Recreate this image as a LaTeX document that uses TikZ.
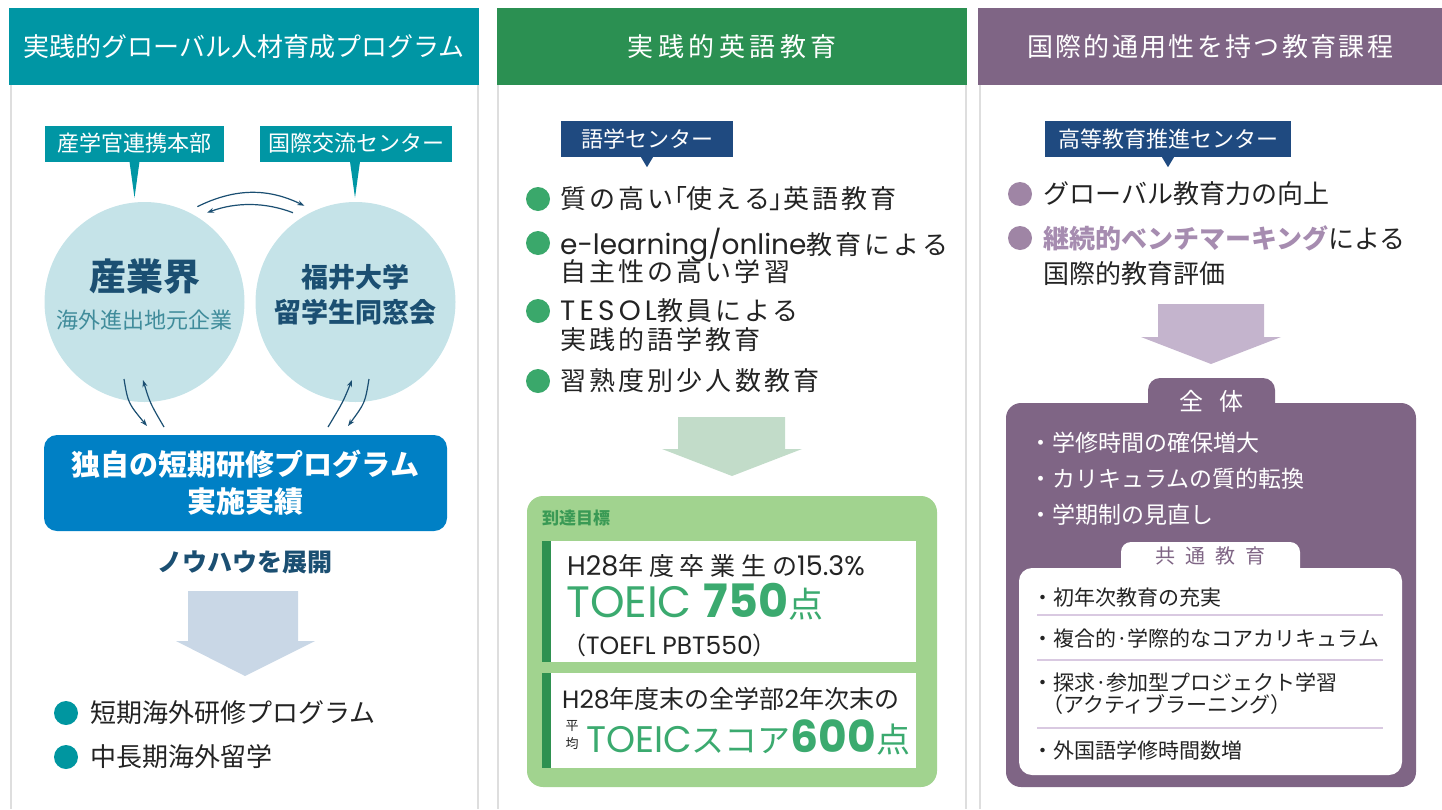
\documentclass[tikz,border=0pt]{standalone}
\usepackage{fontspec}
\setmainfont{Noto Sans CJK JP}
\newfontfamily\geo{Poppins}
\newfontfamily\geospaced[LetterSpace=15]{Poppins}
\newfontfamily\spaced[LetterSpace=12]{Noto Sans CJK JP}
\newfontfamily\spacedwide[LetterSpace=23]{Noto Sans CJK JP}
\newfontfamily\prop[RawFeature=+palt]{Noto Sans CJK JP}
\usetikzlibrary{positioning,arrows.meta,calc}
\newcommand{\fsz}[1]{\fontsize{#1}{#1}\selectfont}
\newcommand{\fszb}[2]{\fontsize{#1}{#2}\selectfont\lineskiplimit=-40pt}

\definecolor{tealhead}{RGB}{0,150,164}
\definecolor{greenhead}{RGB}{43,144,82}
\definecolor{purphead}{RGB}{127,101,133}
\definecolor{circfill}{RGB}{197,227,232}
\definecolor{navytext}{RGB}{27,79,114}
\definecolor{slatetext}{RGB}{64,140,155}
\definecolor{progblue}{RGB}{0,128,197}
\definecolor{arrblue}{RGB}{201,215,230}
\definecolor{navybox}{RGB}{31,74,128}
\definecolor{dotteal}{RGB}{0,150,160}
\definecolor{dotgreen}{RGB}{58,168,107}
\definecolor{arrgreen}{RGB}{194,220,201}
\definecolor{boxgreen}{RGB}{161,211,143}
\definecolor{bargreen}{RGB}{46,145,80}
\definecolor{toeicgreen}{RGB}{59,170,111}
\definecolor{goalgreen}{RGB}{58,154,85}
\definecolor{dotpurp}{RGB}{159,133,165}
\definecolor{boldpurp}{RGB}{166,140,176}
\definecolor{arrpurp}{RGB}{196,180,205}
\definecolor{seppurp}{RGB}{217,201,225}
\definecolor{panelgray}{RGB}{222,222,222}
\definecolor{bodytext}{RGB}{35,35,35}

\begin{document}
\begin{tikzpicture}[x=1pt,y=-1pt,>={Stealth[length=7pt,width=5pt]}]
  \tikzset{
    head/.style={fill=#1,text=white,anchor=north west,minimum height=77pt,
                 inner sep=0pt,font=\fsz{26}},
    tag/.style={fill=#1,text=white,inner sep=0pt,minimum height=36pt,font=\fsz{22}},
    circ/.style={circle,fill=circfill,minimum size=200pt,inner sep=0pt,outer sep=9pt},
    dot/.style={circle,fill=#1,minimum size=24pt,inner sep=0pt},
    txt/.style={anchor=west,inner sep=0pt,text=bodytext,font=\fsz{26}},
    wtxt/.style={anchor=west,inner sep=0pt,text=white,font=\fsz{23}},
    ltxt/.style={anchor=west,inner sep=0pt,text=bodytext,font=\fsz{21}},
    link/.style={->,draw=navytext,line width=1.2pt},
    panel/.style={draw=panelgray,line width=1.6pt},
    sep/.style={draw=seppurp,line width=1.4pt}
  }
  \useasboundingbox (0,0) rectangle (1442,809);

  % Left: global human resources program
  \draw[panel] (11,85) -- (11,809);
  \draw[panel] (478,85) -- (478,809);
  \node[head=tealhead,minimum width=470pt] (h1) at (9,8) {実践的グローバル人材育成プログラム};
  \node[tag=tealhead,minimum width=179pt] (t1) at (134.5,143.5) {産学官連携本部};
  \node[tag=tealhead,minimum width=192pt] (t2) at (356,143.5) {国際交流センター};
  \fill[tealhead] ($(t1.south)+(-5,0)$) -- ($(t1.south)+(5,0)$) -- ($(t1.south)+(0,36)$) -- cycle;
  \fill[tealhead] ($(t2.south)+(-6,0)$) -- ($(t2.south)+(4,0)$) -- ($(t2.south)+(-1,36)$) -- cycle;
  \node[circ] (indus) at (144.5,302) {};
  \node[circ] (alum) at (355.5,302) {};
  \node[font=\fsz{37}\bfseries,text=navytext,inner sep=0pt] (indusA) at (144.5,277) {産業界};
  \node[font=\fsz{22},text=slatetext,inner sep=0pt] (indusB) at (144.5,320) {海外進出地元企業};
  \node[font=\fszb{27}{35}\bfseries,text=navytext,align=center,inner sep=0pt] (alumA)
    at (355.5,294.5) {福井大学\\留学生同窓会};
  \draw[link] (indus.61) .. controls (235,188) and (268,188) .. (alum.118);
  \draw[link] (alum.125) .. controls (265,202) and (236,202) .. (indus.55);
  \node[fill=progblue,rounded corners=13pt,minimum width=403pt,minimum height=96pt,
        text=white,font=\fszb{29}{37}\bfseries,align=center,inner sep=0pt] (prog)
    at (245.5,483) {独自の短期研修プログラム\\実施実績};
  \coordinate (ld1) at (124,379); \coordinate (ld2) at (147,426);
  \coordinate (lu1) at (164,427); \coordinate (lu2) at (143,380);
  \coordinate (ru1) at (328,427); \coordinate (ru2) at (352,380);
  \coordinate (rd1) at (369,379); \coordinate (rd2) at (348,426);
  \draw[link] (ld1) .. controls (128,403) .. (ld2);
  \draw[link] (lu1) .. controls (150,403) .. (lu2);
  \draw[link] (ru1) .. controls (343,402) .. (ru2);
  \draw[link] (rd1) .. controls (365,403) .. (rd2);
  \node[font=\fsz{25}\bfseries,text=navytext,inner sep=0pt] (know) at (245,562) {ノウハウを展開};
  \fill[arrblue] (188,591) -- (298,591) -- (298,641) -- (315,641) -- (245,676)
    -- (176,641) -- (188,641) -- cycle;
  \node[dot=dotteal] (d1) at (66,713) {};
  \node[txt,right=12pt of d1] (l1) {短期海外研修プログラム};
  \node[dot=dotteal] (d2) at (66,757) {};
  \node[txt,right=12pt of d2] (l2) {中長期海外留学};

  % Middle: practical English education
  \draw[panel] (498,85) -- (498,809);
  \draw[panel] (966,85) -- (966,809);
  \node[head=greenhead,minimum width=470pt] (h2) at (497,8)
    {\addfontfeatures{LetterSpace=17}実践的英語教育};
  \node[tag=navybox,minimum width=172pt] (t3) at (647,139) {語学センター};
  \fill[navybox] ($(t3.south)+(-6,0)$) -- ($(t3.south)+(6,0)$) -- ($(t3.south)+(0,10)$) -- cycle;
  \node[dot=dotgreen] (e1) at (538,199) {};
  \node[txt,right=10pt of e1] (m1) {\spaced 質の高い{\prop「}使える{\prop」}英語教育};
  \node[dot=dotgreen] (e2) at (538,243) {};
  \node[txt,align=left,font=\fszb{26}{27}] (m2) at (560,256)
    {{\geo\fsz{28}e-learning/online}{\spaced 教育による}\\{\spaced 自主性の高い学習}};
  \node[dot=dotgreen] (e3) at (538,311) {};
  \node[txt,align=left,font=\fszb{26}{29}] (m3) at (560,325)
    {{\geospaced\fsz{28}TESOL}{\spaced 教員による}\\{\spaced 実践的語学教育}};
  \node[dot=dotgreen] (e4) at (538,381) {};
  \node[txt,right=10pt of e4] (m4) {\spaced 習熟度別少人数教育};
  \fill[arrgreen] (678,417) -- (785,417) -- (785,449) -- (802,449) -- (732,476)
    -- (662,449) -- (678,449) -- cycle;
  \fill[boxgreen,rounded corners=16pt] (527,496) rectangle (937,787);
  \node[anchor=west,inner sep=0pt,font=\fsz{17}\bfseries,text=goalgreen] (goal) at (542,518) {到達目標};
  \fill[white] (542,541) rectangle (916,662);
  \fill[bargreen] (542,541) rectangle (551,662);
  \fill[white] (542,673) rectangle (916,768);
  \fill[bargreen] (542,673) rectangle (551,768);
  \node[anchor=base west,inner sep=0pt,font=\fsz{25},text=bodytext] (g1a) at (567,575)
    {{\geo\fsz{27}H28}{\spacedwide 年度卒業生の}{\geo\fsz{27}15.3\%}};
  \node[anchor=base west,inner sep=0pt,text=toeicgreen] (g1b) at (566,617)
    {{\geo\fsz{44}TOEIC}\hspace{12pt}{\geo\bfseries\fsz{46}750}{\fsz{35}点}};
  \node[anchor=base west,inner sep=0pt,font=\fsz{24},text=bodytext] (g1c) at (562,654)
    {（{\geo\fsz{25}TOEFL PBT550}）};
  \node[anchor=base west,inner sep=0pt,font=\fsz{25},text=bodytext] (g2a) at (562,708)
    {{\geo H28}年度末の全学部{\geo 2}年次末の};
  \node[font=\fszb{13}{18},align=center,inner sep=0pt,text=bodytext] (avg) at (572,735) {平\\均};
  \node[anchor=base west,inner sep=0pt,text=toeicgreen] (g2b) at (586,752)
    {{\geo\fsz{37}TOEIC}{\fsz{33}スコア}{\geo\bfseries\fsz{44}600}{\fsz{34}点}};

  % Right: internationally compatible curriculum
  \draw[panel] (980,85) -- (980,809);
  \node[head=purphead,minimum width=464pt] (h3) at (978,8)
    {\addfontfeatures{LetterSpace=9}国際的通用性を持つ教育課程};
  \node[tag=navybox,minimum width=246pt] (t4) at (1168,139) {高等教育推進センター};
  \fill[navybox] ($(t4.south)+(-6,0)$) -- ($(t4.south)+(6,0)$) -- ($(t4.south)+(0,10)$) -- cycle;
  \node[dot=dotpurp] (f1) at (1020,194) {};
  \node[txt,right=11pt of f1] (r1) {グローバル教育力の向上};
  \node[dot=dotpurp] (f2) at (1020,238) {};
  \node[txt,align=left,font=\fszb{26}{35}] (r2) at (1043,255.5)
    {\textcolor{boldpurp}{\bfseries 継続的ベンチマーキング}による\\国際的教育評価};
  \fill[arrpurp] (1158,304) -- (1264,304) -- (1264,337) -- (1281,337) -- (1211,364)
    -- (1141,337) -- (1158,337) -- cycle;
  \fill[purphead,rounded corners=12pt] (1148,378) rectangle (1275,418);
  \fill[purphead,rounded corners=15pt] (1006,403) rectangle (1416,787);
  \node[font=\fsz{24},text=white,inner sep=0pt] (whole) at (1211.5,401) {全\hspace{16pt}体};
  \node[wtxt,align=left,font=\fszb{23}{36}] (wl) at (1029,479)
    {・学修時間の確保増大\\・カリキュラムの質的転換\\・学期制の見直し};
  \fill[white,rounded corners=10pt] (1121,542) rectangle (1300,585);
  \fill[white,rounded corners=13pt] (1019,568) rectangle (1402,775);
  \node[font=\fsz{20},text=purphead,inner sep=0pt] (common) at (1210.5,556)
    {共\hspace{10pt}通\hspace{10pt}教\hspace{10pt}育};
  \node[ltxt] (c1) at (1032,597) {・初年次教育の充実};
  \draw[sep] (1037,615) -- (1383,615);
  \node[ltxt] (c2) at (1032,638) {・複合的·学際的なコアカリキュラム};
  \draw[sep] (1037,660) -- (1383,660);
  \node[ltxt,align=left,font=\fszb{21}{22}] (c3) at (1032,694)
    {・探求·参加型プロジェクト学習\\\hspace{10pt}（アクティブラーニング）};
  \draw[sep] (1037,728) -- (1383,728);
  \node[ltxt] (c4) at (1032,750) {・外国語学修時間数増};
\end{tikzpicture}
\end{document}
